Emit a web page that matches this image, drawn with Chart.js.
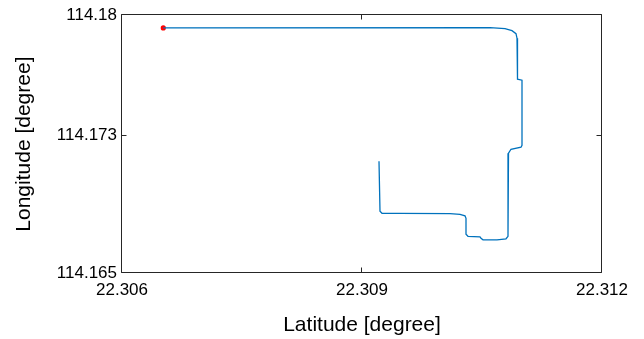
<!DOCTYPE html>
<html>
<head>
<meta charset="utf-8">
<script src="https://cdn.jsdelivr.net/npm/chart.js@4"></script>
<style>
  html, body { margin: 0; padding: 0; background: #ffffff; }
  #wrap { width: 644px; height: 339px; }
</style>
</head>
<body>
<div id="wrap"><canvas id="c" width="644" height="339"></canvas></div>
<script>
// ---- data ----
const latitude = [
  22.306516, 22.3106, 22.3107875, 22.310875, 22.310925, 22.3109375, 22.3109375,
  22.31095, 22.311, 22.311, 22.3109875, 22.3108625, 22.3108313, 22.310825,
  22.3108, 22.3106875, 22.3105125, 22.3104875, 22.310475, 22.310325, 22.3103,
  22.3103, 22.3102875, 22.310225, 22.3101, 22.309475, 22.30925, 22.309225, 22.3092125
];
const longitude = [
  114.179261, 114.179272, 114.179214, 114.179098, 114.178923, 114.178661, 114.176409,
  114.176275, 114.176217, 114.172433, 114.172317, 114.1722, 114.171967, 114.167136,
  114.166991, 114.166932, 114.166932, 114.16702, 114.167107, 114.167136, 114.167253,
  114.168184, 114.168329, 114.168417, 114.168458, 114.168475, 114.168475, 114.168591, 114.171502
];
const startPoint = { lat: 22.306516, lon: 114.179261 };
const xTickValues = [22.306, 22.309, 22.312];
const xTickLabels = ['22.306', '22.309', '22.312'];
const yTickValues = [114.165, 114.173, 114.18];
const yTickLabels = ['114.165', '114.173', '114.18'];
const xRange = [22.306, 22.312];
const yRange = [114.165, 114.18];
const xTitle = 'Latitude [degree]';
const yTitle = 'Longitude [degree]';

const track = latitude.map((v, i) => ({ x: v, y: longitude[i] }));

const FONT = "'Liberation Sans', Arial, Helvetica, sans-serif";
const AXIS_COLOR = '#262626';

const framePlugin = {
  id: 'frame',
  afterDraw(chart) {
    const { ctx, chartArea: a, scales } = chart;
    ctx.save();
    ctx.strokeStyle = AXIS_COLOR;
    ctx.lineWidth = 1;
    const L = Math.round(a.left) - 0.5, R = Math.round(a.right) - 0.5;
    const T = Math.round(a.top) - 0.5, B = Math.round(a.bottom) - 0.5;
    ctx.beginPath();
    ctx.rect(L, T, R - L, B - T);
    ctx.stroke();
    const tl = 5;
    const clamp = (v, lo, hi) => Math.min(hi, Math.max(lo, v));
    ctx.beginPath();
    scales.x.ticks.forEach(t => {
      const px = clamp(Math.round(scales.x.getPixelForValue(t.value)) - 0.5, L, R);
      ctx.moveTo(px, B); ctx.lineTo(px, B - tl);
      ctx.moveTo(px, T); ctx.lineTo(px, T + tl);
    });
    scales.y.ticks.forEach(t => {
      const py = clamp(Math.round(scales.y.getPixelForValue(t.value)) - 0.5, T, B);
      ctx.moveTo(L, py); ctx.lineTo(L + tl, py);
      ctx.moveTo(R, py); ctx.lineTo(R - tl, py);
    });
    ctx.stroke();
    ctx.restore();
  }
};

new Chart(document.getElementById('c'), {
  type: 'scatter',
  data: {
    datasets: [
      {
        data: track,
        showLine: true,
        borderColor: '#0072BD',
        borderWidth: 1.3,
        pointRadius: 0,
        tension: 0,
        fill: false
      },
      {
        data: [{ x: startPoint.lat, y: startPoint.lon }],
        showLine: false,
        pointRadius: 2.6,
        pointBackgroundColor: '#FF0000',
        pointBorderColor: '#FF0000',
        pointBorderWidth: 0
      }
    ]
  },
  options: {
    responsive: false,
    animation: false,
    devicePixelRatio: 1,
    layout: { padding: { left: 0, right: 42, top: 15, bottom: 0 } },
    plugins: { legend: { display: false }, tooltip: { enabled: false } },
    scales: {
      x: {
        type: 'linear',
        min: xRange[0], max: xRange[1],
        grid: { display: false, drawTicks: false },
        border: { display: false },
        afterBuildTicks: s => { s.ticks = xTickValues.map(v => ({ value: v })); },
        afterFit: s => { s.height = 66; },
        ticks: {
          autoSkip: false, maxRotation: 0, padding: 7,
          color: '#000000',
          font: { family: FONT, size: 17 },
          callback: (v, i) => xTickLabels[i]
        },
        title: {
          display: true, text: xTitle, color: '#000000',
          font: { family: FONT, size: 21 },
          padding: { top: 0, bottom: 1.5 }
        }
      },
      y: {
        type: 'linear',
        min: yRange[0], max: yRange[1],
        grid: { display: false, drawTicks: false },
        border: { display: false },
        afterBuildTicks: s => { s.ticks = yTickValues.map(v => ({ value: v })); },
        afterFit: s => { s.width = 122; },
        ticks: {
          autoSkip: false, padding: 5,
          color: '#000000',
          font: { family: FONT, size: 17 },
          callback: (v, i) => yTickLabels[i]
        },
        title: {
          display: true, text: yTitle, color: '#000000',
          font: { family: FONT, size: 21 },
          padding: { top: 11.5, bottom: 0 }
        }
      }
    }
  },
  plugins: [framePlugin]
});
</script>
</body>
</html>
